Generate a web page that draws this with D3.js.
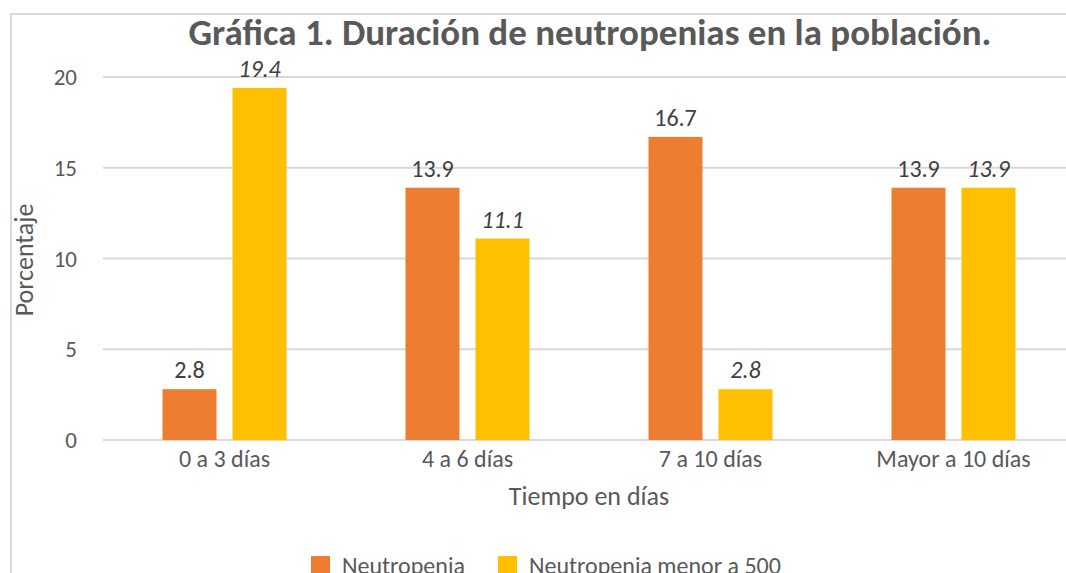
<!DOCTYPE html>
<html>
<head>
<meta charset="utf-8">
<script src="https://cdn.jsdelivr.net/npm/d3@7"></script>
<style>
  body { margin: 0; background: #fff; }
  svg { display: block; font-family: Carlito, Lato, "Open Sans", sans-serif; }
</style>
</head>
<body>
<div class="container"></div>
<script>
const categories = ["0 a 3 días", "4 a 6 días", "7 a 10 días", "Mayor a 10 días"];
const seriesNames = ["Neutropenia", "Neutropenia menor a 500"];
const neutropenia = [2.8, 13.9, 16.7, 13.9];
const menor500 = [19.4, 11.1, 2.8, 13.9];
const yTicks = [0, 5, 10, 15, 20];
const colors = ["#ED7D31", "#FFC000"];

const width = 1066, height = 573;
const margin = { top: 77, left: 103 };
const bandW = 243;

const svg = d3.select(".container").append("svg")
  .attr("width", width).attr("height", height);

// chart border
svg.append("rect")
  .attr("x", 11).attr("y", 14)
  .attr("width", 1100).attr("height", 600)
  .attr("fill", "none").attr("stroke", "#d9d9d9").attr("stroke-width", 2);

const x = d3.scaleBand().domain(categories)
  .range([margin.left, margin.left + bandW * categories.length]);
const y = d3.scaleLinear().domain([0, 20]).range([440, margin.top]);

const barW = 54, gap = 16;

// gridlines
svg.append("g").selectAll("line").data(yTicks).enter().append("line")
  .attr("x1", margin.left).attr("x2", margin.left + bandW * 4)
  .attr("y1", d => y(d)).attr("y2", d => y(d))
  .attr("stroke", "#d9d9d9").attr("stroke-width", 2);

// y tick labels
svg.append("g").selectAll("text").data(yTicks).enter().append("text")
  .attr("x", 77).attr("y", d => y(d)).attr("dy", "0.35em")
  .attr("text-anchor", "end").attr("font-size", 23).attr("fill", "#595959")
  .text(d => d);

const series = [neutropenia, menor500];
series.forEach((vals, s) => {
  const cx = c => x(c) + x.bandwidth() / 2 + (s === 0 ? -(gap / 2 + barW) : gap / 2);
  svg.append("g").selectAll("rect").data(categories).enter().append("rect")
    .attr("x", c => cx(c))
    .attr("y", (c, i) => y(vals[i]))
    .attr("width", barW)
    .attr("height", (c, i) => y(0) - y(vals[i]))
    .attr("fill", colors[s]);
  svg.append("g").selectAll("text").data(categories).enter().append("text")
    .attr("x", c => cx(c) + barW / 2)
    .attr("y", (c, i) => y(vals[i]) - 11)
    .attr("text-anchor", "middle").attr("font-size", 24).attr("fill", "#404040")
    .attr("font-style", s === 1 ? "italic" : "normal")
    .text((c, i) => vals[i].toFixed(1));
});

// category labels
svg.append("g").selectAll("text").data(categories).enter().append("text")
  .attr("x", c => x(c) + x.bandwidth() / 2).attr("y", 467)
  .attr("text-anchor", "middle").attr("font-size", 24).attr("fill", "#595959")
  .text(d => d);

// title
svg.append("text").attr("x", 590).attr("y", 45)
  .attr("text-anchor", "middle").attr("font-size", 37).attr("font-weight", "bold")
  .attr("fill", "#595959")
  .text("Gráfica 1. Duración de neutropenias en la población.");

// axis titles
svg.append("text").attr("x", 589).attr("y", 505)
  .attr("text-anchor", "middle").attr("font-size", 26).attr("fill", "#595959")
  .text("Tiempo en días");
svg.append("text")
  .attr("transform", "translate(33,260) rotate(-90)")
  .attr("text-anchor", "middle").attr("font-size", 26).attr("fill", "#595959")
  .text("Porcentaje");

// legend
const legX = [311, 498];
seriesNames.forEach((n, i) => {
  svg.append("rect").attr("x", legX[i]).attr("y", 556)
    .attr("width", 19).attr("height", 19).attr("fill", colors[i]);
  svg.append("text").attr("x", legX[i] + 31).attr("y", 574)
    .attr("font-size", 24).attr("fill", "#595959").text(n);
});
</script>
</body>
</html>
